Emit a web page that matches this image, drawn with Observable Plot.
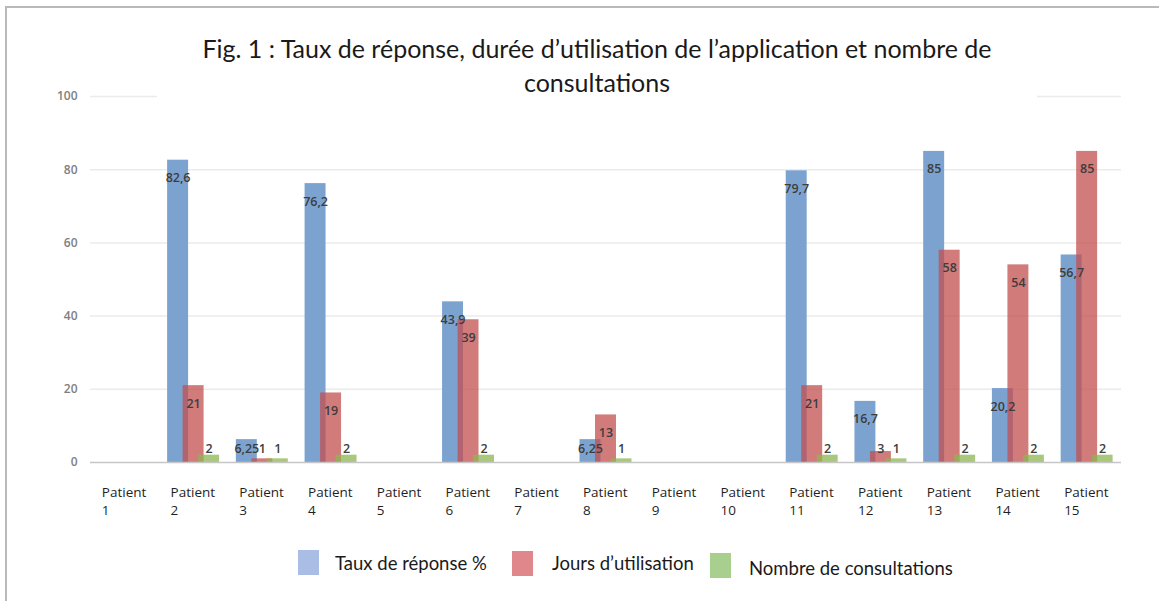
<!DOCTYPE html>
<html><head><meta charset="utf-8">
<script src="https://cdn.jsdelivr.net/npm/d3@7"></script>
<script src="https://cdn.jsdelivr.net/npm/@observablehq/plot@0.6"></script>
<style>
body{margin:0;background:#fff;}
#wrap{position:relative;width:1159px;height:601px;overflow:hidden;background:#fff;}
#frame{position:absolute;left:5px;top:6px;width:1200px;height:700px;border-left:2px solid #b9b9b9;border-top:2px solid #b9b9b9;}
#chart{position:absolute;left:0;top:0;}
#title{position:absolute;left:157px;width:880px;top:31px;text-align:center;background:#fff;font-family:Lato,sans-serif;font-size:25px;line-height:34px;color:#1a1a1a;}
.sw{position:absolute;width:21px;height:25px;}
.lt{position:absolute;font-family:Lato,sans-serif;font-size:18.5px;color:#1a1a1a;line-height:22px;white-space:nowrap;}
</style></head><body>
<div id="wrap"><div id="frame"></div><div id="chart"></div><div id="title"></div><div id="legend"></div></div>
<script>
const titleLines = ["Fig. 1 : Taux de réponse, durée d’utilisation de l’application et nombre de", "consultations"];
const patients = ["Patient 1","Patient 2","Patient 3","Patient 4","Patient 5","Patient 6","Patient 7","Patient 8","Patient 9","Patient 10","Patient 11","Patient 12","Patient 13","Patient 14","Patient 15"];
const tauxReponse = [null, 82.6, 6.25, 76.2, null, 43.9, null, 6.25, null, null, 79.7, 16.7, 85, 20.2, 56.7];
const joursUtilisation = [null, 21, 1, 19, null, 39, null, 13, null, null, 21, 3, 58, 54, 85];
const nombreConsultations = [null, 2, 1, 2, null, 2, null, 1, null, null, 2, 1, 2, 2, 2];
const seriesNames = ["Taux de réponse %", "Jours d’utilisation", "Nombre de consultations"];
const yTicks = [0, 20, 40, 60, 80, 100];

const seriesStyle = [
  {values: tauxReponse, fill: "#7ca3d0", opacity: 1, dx: -15.5, legend: "#a9bde5", lx: 298, ly: 550, tx: 335, ty: 552},
  {values: joursUtilisation, fill: "#c34f4f", opacity: 0.75, dx: 0, legend: "#e0878b", lx: 512, ly: 551, tx: 552, ty: 552},
  {values: nombreConsultations, fill: "#8db551", opacity: 0.75, dx: 15.5, legend: "#a9cf8e", lx: 710, ly: 553, tx: 749, ty: 557}
];

document.getElementById("title").innerHTML = titleLines.join("<br>");

const fmt = v => String(v).replace(".", ",");
const rowsOf = s => patients.map((p, i) => ({patient: p, value: s.values[i]})).filter(d => d.value != null);

const marks = [
  Plot.ruleY(yTicks.filter(t => t > 0), {stroke: "#ebebeb", strokeWidth: 1.5})
];
seriesStyle.forEach(s => {
  marks.push(Plot.barY(rowsOf(s), {x: "patient", y: "value", fill: s.fill, fillOpacity: s.opacity, dx: s.dx, insetLeft: 0, insetRight: 0}));
});
marks.push(Plot.ruleY([0], {stroke: "#c6c6c6", strokeWidth: 1.5}));
seriesStyle.forEach(s => {
  marks.push(Plot.text(rowsOf(s), {x: "patient", y: d => Math.max(d.value - 4.9, 3.8), text: d => fmt(d.value), dx: s.dx, fill: "#3d3d3d", fontSize: 12.5, fontWeight: 600}));
});
marks.push(Plot.axisY({ticks: yTicks, tickSize: 0, tickPadding: 13, fontSize: 12, fill: "#808080", fontWeight: 600, label: null}));
marks.push(Plot.axisX({tickSize: 0, tickPadding: 22, tickFormat: d => d.replace(" ", "\n"), textAnchor: "start", dx: -23, fontSize: 13.5, lineHeight: 1.33, fill: "#1f1f1f", label: null}));

const chart = Plot.plot({
  width: 1159, height: 530,
  marginLeft: 90, marginRight: 38, marginTop: 96, marginBottom: 68,
  style: {fontFamily: "'Open Sans', sans-serif", background: "transparent"},
  x: {domain: patients, paddingInner: 0.695, paddingOuter: 0.3475, align: 0.5, round: false},
  y: {domain: [0, 100]},
  marks
});
document.getElementById("chart").appendChild(chart);

const legend = document.getElementById("legend");
seriesStyle.forEach((s, i) => {
  const sw = document.createElement("div");
  sw.className = "sw"; sw.style.left = s.lx + "px"; sw.style.top = s.ly + "px"; sw.style.background = s.legend;
  legend.appendChild(sw);
  const t = document.createElement("div");
  t.className = "lt"; t.style.left = s.tx + "px"; t.style.top = s.ty + "px"; t.textContent = seriesNames[i];
  legend.appendChild(t);
});
</script>
</body></html>
